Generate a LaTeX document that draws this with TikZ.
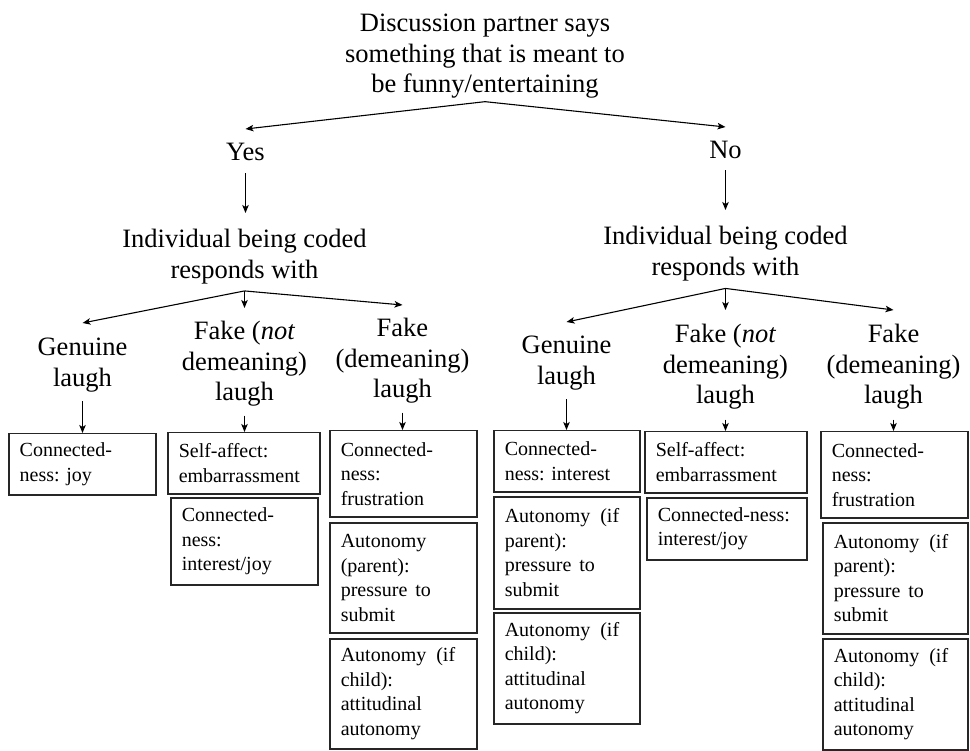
\documentclass[tikz,border=0pt]{standalone}
\usepackage{fontspec}
\setmainfont{Liberation Serif}
\frenchspacing
\usetikzlibrary{arrows.meta}
\tikzset{
  lbl/.style={anchor=north, align=center, inner sep=0pt, font=\fontsize{26.5}{30.5}\selectfont},
  bx/.style={draw=black!85, line width=1.5pt, anchor=north west, inner xsep=11pt, inner ysep=0pt, align=left, font=\fontsize{20}{24.5}\selectfont},
  arr/.style={line width=1.1pt, -{Stealth[length=8pt,width=6.5pt,inset=2pt]}},
  ln/.style={line width=1.1pt}
}
\begin{document}
\begin{tikzpicture}[x=1pt,y=-1pt]
\useasboundingbox (0,0) rectangle (970,751);

% top
\node[lbl] (title) at (485,14) {Discussion partner says\\something that is meant to\\be funny/entertaining};
\coordinate (t) at ([yshift=-3pt]title.south);
\node[lbl] (yes) at (245.5,143) {Yes};
\node[lbl] (no) at (725.5,141) {No};
\draw[arr] (t) -- ([yshift=14pt]yes.north);
\draw[arr] (t) -- ([yshift=14pt]no.north);

\node[lbl] (indL) at (244.5,229) {Individual being coded\\responds with};
\node[lbl] (indR) at (725.5,226) {Individual being coded\\responds with};
\draw[arr, shorten <=12pt, shorten >=16pt] (yes.south) -- (yes.south |- indL.north);
\draw[arr, shorten <=11pt, shorten >=16pt] (no.south) -- (no.south |- indR.north);

% left fork
\coordinate (f1) at ([yshift=-7pt]indL.south);
\node[lbl] (genL) at (82.5,338) {Genuine\\laugh};
\node[lbl] (fnL) at (244.5,321) {Fake (\textit{not}\\demeaning)\\laugh};
\node[lbl] (fdL) at (402.5,318) {Fake\\(demeaning)\\laugh};
\draw[arr] (f1) -- ([yshift=15pt]genL.north);
\draw[arr] (f1) -- ([yshift=13pt]fnL.north);
\draw[arr] (f1) -- ([yshift=13pt]fdL.north);

% right fork
\coordinate (f2) at ([yshift=-7.5pt]indR.south);
\node[lbl] (genR) at (566.5,336) {Genuine\\laugh};
\node[lbl] (fnR) at (725.5,324) {Fake (\textit{not}\\demeaning)\\laugh};
\node[lbl] (fdR) at (893.5,324) {Fake\\(demeaning)\\laugh};
\draw[arr] (f2) -- ([yshift=14pt]genR.north);
\draw[arr] (f2) -- ([yshift=14pt]fnR.north);
\draw[arr] (f2) -- ([yshift=14pt]fdR.north);

% left boxes
\node[bx, text width=125pt, minimum height=61pt] (b1) at (8,433) {Connected-\\ness: joy};
\node[bx, text width=130pt, minimum height=61pt] (b2) at (167,432) {Self-affect:\\embarrassment};
\node[bx, text width=125pt, minimum height=87pt] (b3) at (170,497) {Connected-\\ness:\\interest/joy};
\node[bx, text width=125pt, minimum height=86pt] (b4) at (329,430) {Connected-\\ness:\\frustration};
\node[bx, text width=125pt, minimum height=110pt] (b5) at (329,522) {Autonomy\\(parent):\\pressure\hspace{8pt}to\\submit};
\node[bx, text width=125pt, minimum height=110pt] (b6) at (329,638) {Autonomy\hspace{10pt}(if\\child):\\attitudinal\\autonomy};

% right boxes
\node[bx, text width=124pt, minimum height=61pt] (c1) at (493,430) {Connected-\\ness: interest};
\node[bx, text width=124pt, minimum height=112pt] (c2) at (493,496) {Autonomy\hspace{10pt}(if\\parent):\\pressure\hspace{8pt}to\\submit};
\node[bx, text width=124pt, minimum height=111pt] (c3) at (493,612) {Autonomy\hspace{10pt}(if\\child):\\attitudinal\\autonomy};
\node[bx, text width=140pt, minimum height=61pt] (d1) at (644,431) {Self-affect:\\embarrassment};
\node[bx, text width=138pt, minimum height=62pt] (d2) at (646,497) {Connected-ness:\\interest/joy};
\node[bx, text width=125pt, minimum height=86pt] (e1) at (820,431) {Connected-\\ness:\\frustration};
\node[bx, text width=123pt, minimum height=111pt] (e2) at (822,522) {Autonomy\hspace{10pt}(if\\parent):\\pressure\hspace{8pt}to\\submit};
\node[bx, text width=123pt, minimum height=111pt] (e3) at (822,638) {Autonomy\hspace{10pt}(if\\child):\\attitudinal\\autonomy};

% label to box arrows
\draw[arr, shorten <=9pt] (genL.south) -- (genL.south |- b1.north);
\draw[arr, shorten <=9pt] (fnL.south) -- (fnL.south |- b2.north);
\draw[arr, shorten <=9pt] (fdL.south) -- (fdL.south |- b4.north);
\draw[arr, shorten <=9pt] (genR.south) -- (genR.south |- c1.north);
\draw[arr, shorten <=10pt] (fnR.south) -- (fnR.south |- d1.north);
\draw[arr, shorten <=10pt] (fdR.south) -- (fdR.south |- e1.north);
\end{tikzpicture}
\end{document}
